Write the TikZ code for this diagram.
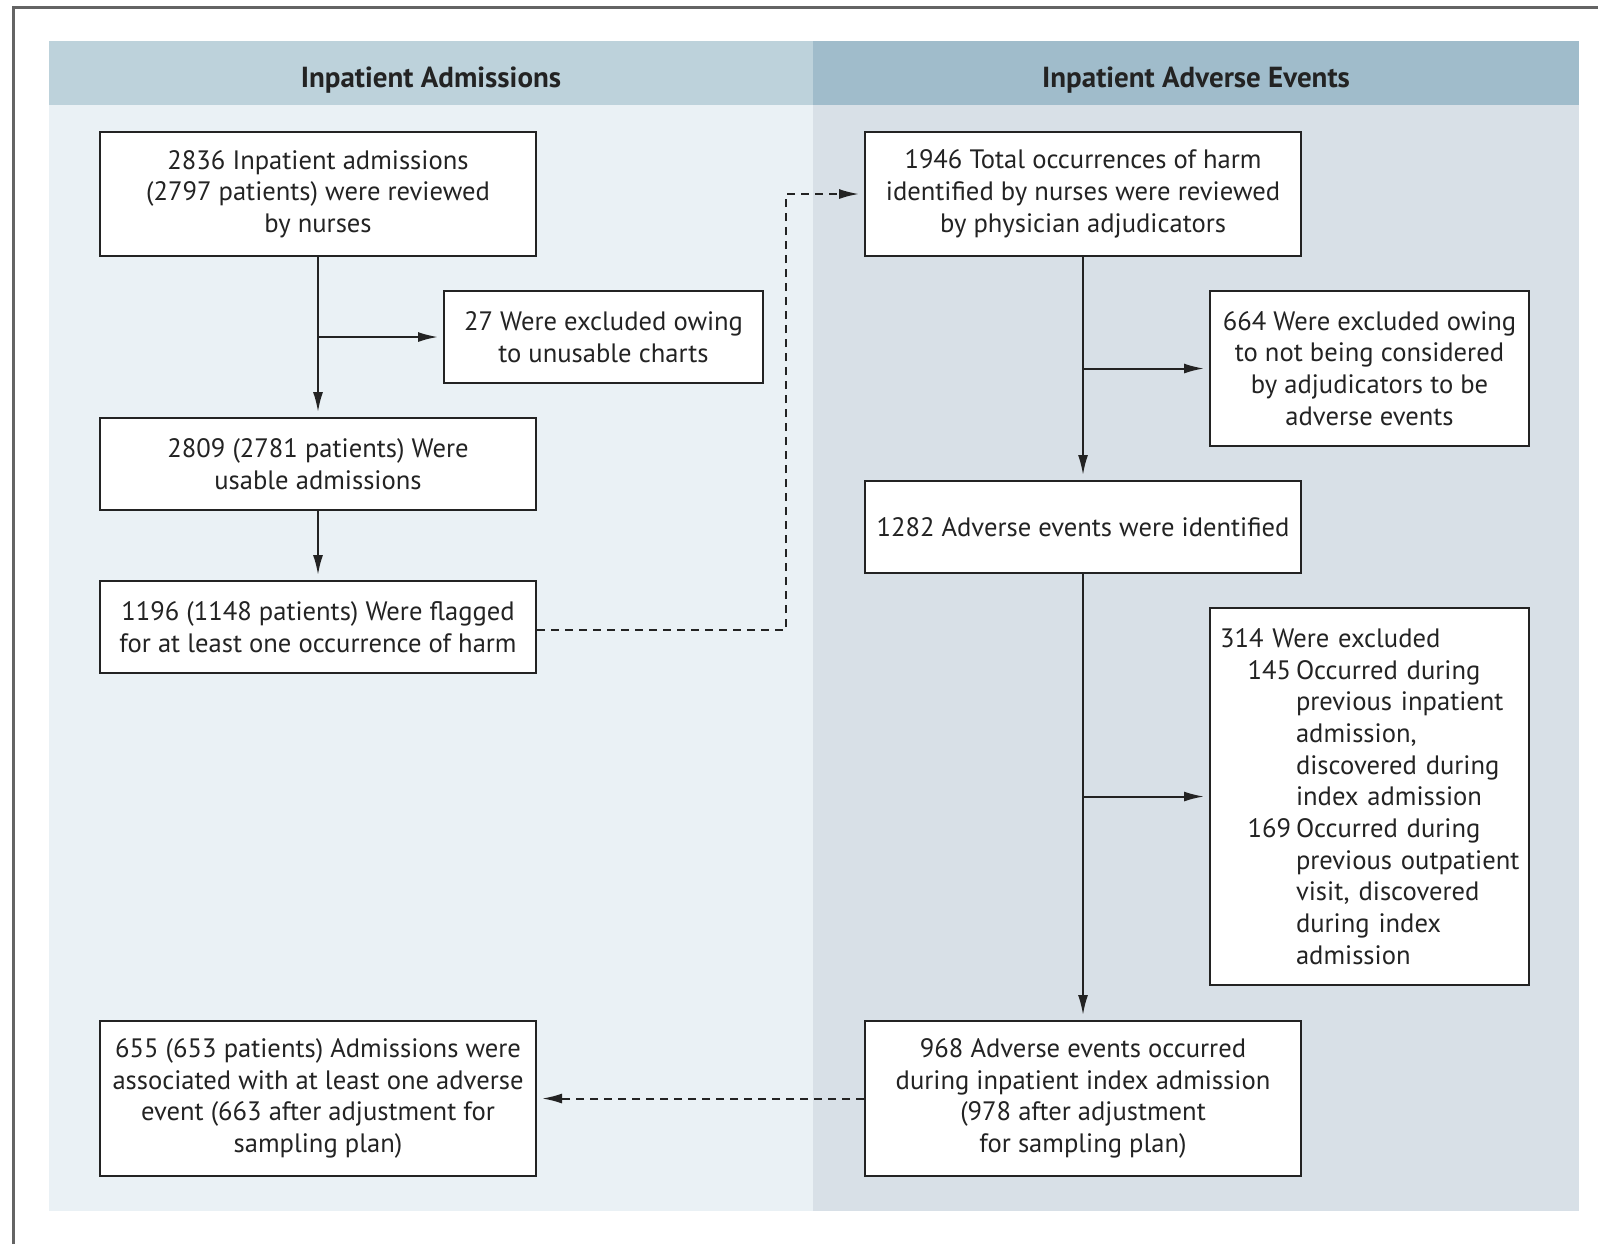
\documentclass[tikz,border=0pt]{standalone}
\usepackage{fontspec}
\setmainfont{PT Sans}
\usetikzlibrary{arrows.meta}
\definecolor{hdrL}{RGB}{189,210,219}
\definecolor{hdrR}{RGB}{160,188,203}
\definecolor{bodyL}{RGB}{234,241,245}
\definecolor{bodyR}{RGB}{216,224,231}
\definecolor{frameC}{RGB}{100,100,100}
\definecolor{lineC}{RGB}{35,35,35}
\newcommand{\boxfont}{\fontsize{13.3}{15.85}\selectfont}
\newcommand{\subln}[1]{\mbox{\hspace*{38pt}#1}}
\newcommand{\itemln}[2]{\mbox{\hspace*{13.75pt}\makebox[24.25pt][l]{#1}#2}}
\tikzset{
  fbox/.style={draw=lineC, line width=1pt, fill=white, inner sep=0pt, align=center, font=\boxfont, text=lineC},
  wide/.style={minimum width=218pt},
  narrow/.style={minimum width=159.5pt},
  arr/.style={draw=lineC, line width=1pt, -{Latex[length=10pt,width=5pt]}, shorten >=2.5pt},
  dasharr/.style={arr, dash pattern=on 4pt off 3pt},
  hdr/.style={font=\fontsize{14.5}{17}\selectfont\bfseries, text=lineC},
}
\begin{document}
\begin{tikzpicture}[x=0.5pt,y=-0.5pt]
\useasboundingbox (0,0) rectangle (1598,1244);
% outer frame
\draw[frameC, line width=1.5pt] (13,1244) -- (13,7) -- (1598,7);
% panels
\fill[bodyL] (49,41) rectangle (813,1211);
\fill[bodyR] (813,41) rectangle (1579,1211);
\fill[hdrL] (49,41) rectangle (813,105);
\fill[hdrR] (813,41) rectangle (1579,105);
\node[hdr] (h1) at (431,80) {Inpatient Admissions};
\node[hdr] (h2) at (1196,80) {Inpatient Adverse Events};
% left boxes
\node[fbox, wide, minimum height=62pt] (A) at (318,194) {2836 Inpatient admissions\\(2797 patients) were reviewed\\by nurses};
\node[fbox, narrow, minimum height=46pt] (B) at (603.5,337) {27 Were excluded owing\\to unusable charts};
\node[fbox, wide, minimum height=46pt] (C) at (318,464) {2809 (2781 patients) Were\\usable admissions};
\node[fbox, wide, minimum height=46pt] (D) at (318,627) {1196 (1148 patients) Were flagged\\for at least one occurrence of harm};
\node[fbox, wide, minimum height=77.5pt] (E) at (318,1098.5) {655 (653 patients) Admissions were\\associated with at least one adverse\\event (663 after adjustment for\\sampling plan)};
% right boxes
\node[fbox, wide, minimum height=62pt] (F) at (1083,194) {1946 Total occurrences of harm\\identified by nurses were reviewed\\by physician adjudicators};
\node[fbox, narrow, minimum height=77.5pt] (G) at (1369.5,368.5) {664 Were excluded owing\\to not being considered\\by adjudicators to be\\adverse events};
\node[fbox, wide, minimum height=46pt] (H) at (1083,527) {1282 Adverse events were identified};
\node[fbox, narrow, minimum height=188.5pt, align=left, text width=149.5pt, inner xsep=5pt] (I) at (1369.5,796.5) {\mbox{314 Were excluded}\\
\itemln{145}{Occurred during}\\
\subln{previous inpatient}\\
\subln{admission,}\\
\subln{discovered during}\\
\subln{index admission}\\
\itemln{169}{Occurred during}\\
\subln{previous outpatient}\\
\subln{visit, discovered}\\
\subln{during index}\\
\subln{admission}};
\node[fbox, wide, minimum height=77.5pt] (J) at (1083,1098.5) {968 Adverse events occurred\\during inpatient index admission\\(978 after adjustment\\for sampling plan)};
% connectors
\draw[arr] (A) -- (C);
\draw[arr] (A.south |- B.west) -- (B.west);
\draw[arr] (C) -- (D);
\coordinate (k) at (786,194);
\draw[dasharr] ([yshift=-1.5pt]D.east) -| (k) -- (F.west);
\draw[arr] (F) -- (H);
\draw[arr] (F.south |- G.west) -- (G.west);
\draw[arr] (H) -- (J);
\draw[arr] (H.south |- I.west) -- (I.west);
\draw[dasharr] (J.west) -- (E.east);
\end{tikzpicture}
\end{document}
